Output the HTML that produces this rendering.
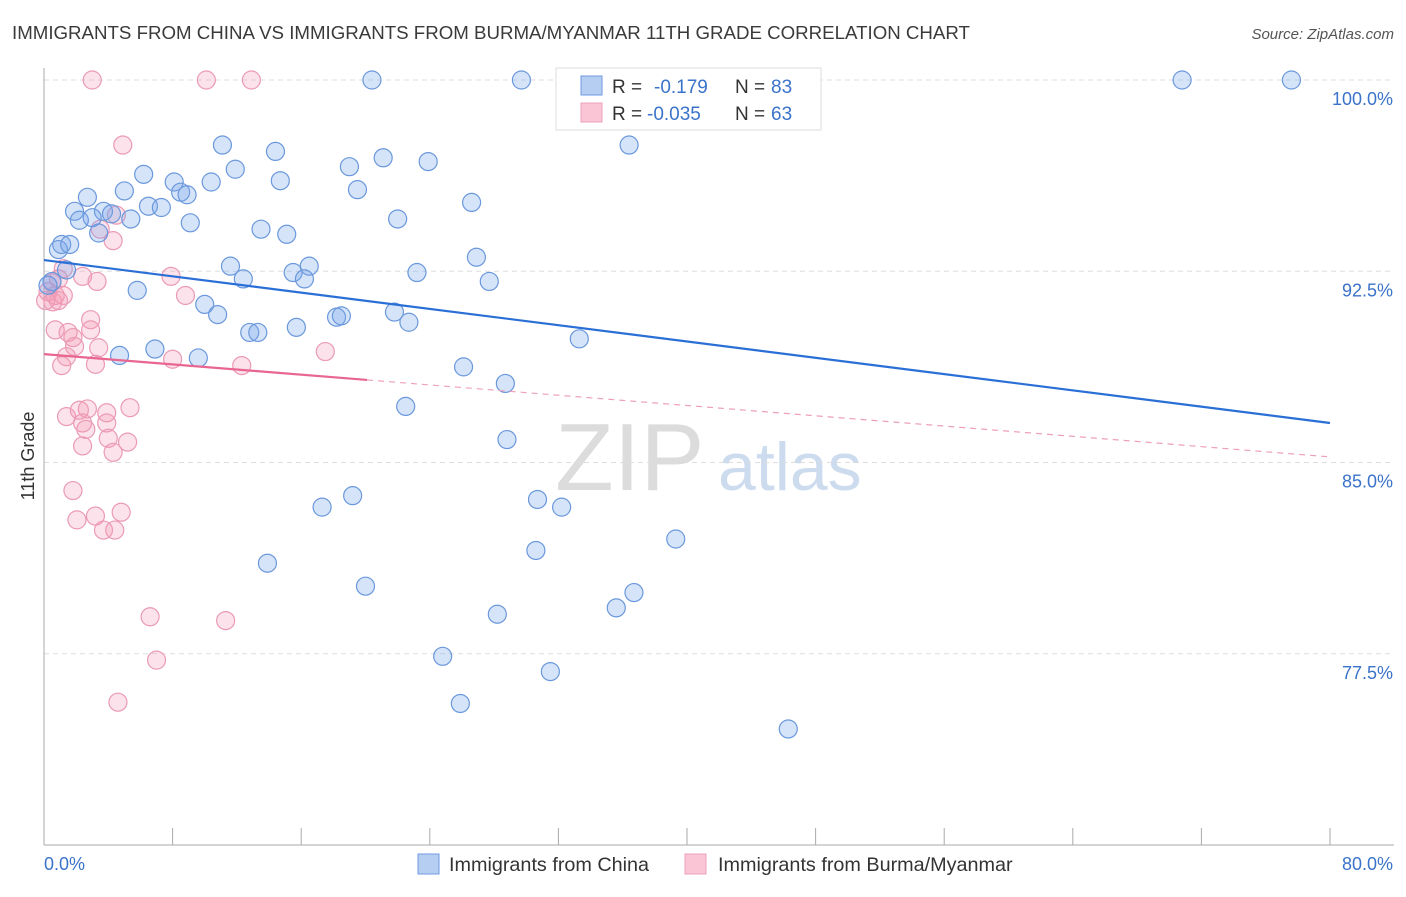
<!DOCTYPE html>
<html><head><meta charset="utf-8"><style>
body{margin:0;background:#fff;font-family:"Liberation Sans",sans-serif;}
svg text{font-family:"Liberation Sans",sans-serif;}
</style></head><body>
<svg id="chart" width="1406" height="892" xmlns="http://www.w3.org/2000/svg">
<text x="12" y="39" font-size="18.7" fill="#3a3a3a">IMMIGRANTS FROM CHINA VS IMMIGRANTS FROM BURMA/MYANMAR 11TH GRADE CORRELATION CHART</text>
<text x="1394" y="39" font-size="15" fill="#555" text-anchor="end" font-style="italic">Source: ZipAtlas.com</text>
<g>
<text x="555" y="490" font-size="96" fill="#d4d4d4" font-family="Liberation Serif" opacity="0.8">ZIP</text>
<text x="718" y="490" font-size="68" fill="#c8d8ee" opacity="0.9">atlas</text>
</g>
<g id="grid"></g>
<g id="axes"></g>
<g id="pts"></g>
<g id="trend"></g>
<text transform="translate(34,456) rotate(-90)" font-size="18" fill="#333" text-anchor="middle">11th Grade</text>
<g>
<rect x="556" y="68" width="265" height="62" fill="#fff" stroke="#ddd"/>
<rect x="581" y="76" width="21" height="19" fill="#b5cef2" stroke="#6f9ae0"/>
<rect x="581" y="103" width="21" height="19" fill="#fac6d6" stroke="#eca0b8"/>
<text x="612" y="93" font-size="19" fill="#333">R = </text><text x="654" y="93" font-size="19" fill="#3a73c9">-0.179</text>
<text x="735" y="93" font-size="19" fill="#333">N = </text><text x="771" y="93" font-size="19" fill="#3a73c9">83</text>
<text x="612" y="120" font-size="19" fill="#333">R = </text><text x="647" y="120" font-size="19" fill="#3a73c9">-0.035</text>
<text x="735" y="120" font-size="19" fill="#333">N = </text><text x="771" y="120" font-size="19" fill="#3a73c9">63</text>
</g>
<g>
<rect x="418" y="854" width="21" height="20" fill="#b5cef2" stroke="#6f9ae0"/>
<text x="449" y="871" font-size="19.8" fill="#333">Immigrants from China</text>
<rect x="685" y="854" width="21" height="20" fill="#fac6d6" stroke="#eca0b8"/>
<text x="718" y="871" font-size="19.8" fill="#333">Immigrants from Burma/Myanmar</text>
</g>
</svg>
<script>
const yTicks=[100,92.5,85,77.5];
const yTickLabels=["100.0%","92.5%","85.0%","77.5%"];
const xTickLabels=["0.0%","80.0%"];
const chinaX=[20.4,29.7,32.9,40.8,70.8,77.6,11.1,36.4,14.4,21.1,23.9,19.0,11.9,6.2,8.1,10.4,14.7,19.5,8.5,5.0,2.7,8.9,6.5,7.3,26.6,1.9,3.7,3.0,5.4,4.2,2.2,9.1,22.0,13.5,15.1,3.4,1.1,0.9,26.9,11.6,15.5,16.5,23.2,0.5,12.4,16.2,27.7,5.8,10.0,10.8,18.2,18.5,21.8,22.7,15.7,12.8,13.3,33.3,4.7,6.9,9.6,26.1,28.7,22.5,28.8,19.2,17.3,30.7,32.2,39.3,30.6,13.9,20.0,36.7,35.6,28.2,24.8,31.5,25.9,46.3,1.4,0.25,1.6];
const chinaY=[100,100,100,100,100,100,97.45,97.45,97.2,96.95,96.8,96.6,96.5,96.3,96.0,96.0,96.05,95.7,95.6,95.65,95.4,95.5,95.05,95.0,95.2,94.85,94.85,94.6,94.55,94.75,94.5,94.4,94.55,94.15,93.95,94.0,93.55,93.35,93.05,92.7,92.45,92.7,92.45,92.1,92.2,92.2,92.1,91.75,91.2,90.8,90.7,90.75,90.9,90.5,90.3,90.1,90.1,89.85,89.2,89.45,89.1,88.75,88.1,87.2,85.9,83.7,83.25,83.55,83.25,82.0,81.55,81.05,80.15,79.9,79.3,79.05,77.4,76.8,75.55,74.55,92.55,91.95,93.55];
const burmaX=[3.0,10.1,12.9,4.9,4.5,3.5,4.3,1.2,2.4,3.3,7.9,0.5,0.25,0.7,1.2,8.8,0.55,0.1,0.9,0.7,1.5,2.9,2.9,1.8,1.9,3.4,1.4,1.1,3.2,12.3,8.0,17.5,5.35,2.7,2.2,3.9,2.4,3.9,1.4,2.6,4.0,5.2,2.4,4.3,1.8,3.2,2.05,3.7,4.4,4.8,6.6,11.3,7.0,4.6,0.9];
const burmaY=[100,100,100,97.45,94.7,94.15,93.7,92.6,92.3,92.1,92.3,92.05,91.7,91.55,91.55,91.55,91.3,91.35,91.35,90.2,90.1,90.6,90.2,89.9,89.55,89.5,89.15,88.8,88.85,88.8,89.05,89.35,87.15,87.1,87.05,86.95,86.55,86.55,86.8,86.3,85.95,85.8,85.65,85.4,83.9,82.9,82.75,82.35,82.35,83.05,78.95,78.8,77.25,75.6,92.2];
const chinaTrend=[92.94,86.55];
const burmaTrend=[89.25,85.22];
const burmaSolidEnd=20.1;

const X0=44,X1=1330;
const xs=v=>X0+(v/80)*(X1-X0);
const ys=v=>80+(100-v)*25.5;
const NS="http://www.w3.org/2000/svg";
function mk(t,a,p){const e=document.createElementNS(NS,t);for(const k in a)e.setAttribute(k,a[k]);p.appendChild(e);return e;}
const grid=document.getElementById('grid'),axes=document.getElementById('axes'),pts=document.getElementById('pts'),tr=document.getElementById('trend');
yTicks.forEach((v,i)=>{
 const l=mk('line',{x1:X0,x2:1394,y1:ys(v),y2:ys(v),stroke:'#ddd','stroke-dasharray':'5,4'},grid);
 
 
 const t=mk('text',{x:1393,y:ys(v)+25,'font-size':18,fill:'#3a73c9','text-anchor':'end'},axes);
 t.textContent=yTickLabels[i];
 
 
});
const ya=mk('line',{x1:X0,x2:X0,y1:68,y2:845,stroke:'#aaa'},axes);


const xa=mk('line',{x1:X0,x2:1394,y1:845,y2:845,stroke:'#aaa'},axes);


for(let i=0;i<=10;i++){
 const tk=mk('line',{x1:xs(i*8),x2:xs(i*8),y1:828,y2:845,stroke:'#aaa'},axes);
 
 
}
const xl0=mk('text',{x:44,y:870,'font-size':18,fill:'#3a73c9'},axes);xl0.textContent=xTickLabels[0];


const xl1=mk('text',{x:1393,y:870,'font-size':18,fill:'#3a73c9','text-anchor':'end'},axes);xl1.textContent=xTickLabels[1];


burmaX.forEach((x,i)=>{
 const c=mk('circle',{cx:xs(x),cy:ys(burmaY[i]),r:9,fill:'rgba(244,150,180,0.28)',stroke:'#eb9ab5','stroke-width':1.2},pts);
 
 
});
chinaX.forEach((x,i)=>{
 const c=mk('circle',{cx:xs(x),cy:ys(chinaY[i]),r:9,fill:'rgba(120,165,235,0.3)',stroke:'#6a98dc','stroke-width':1.2},pts);
 
 
});
const bl=mk('line',{x1:xs(0),y1:ys(chinaTrend[0]),x2:xs(80),y2:ys(chinaTrend[1]),stroke:'#2a6fd6','stroke-width':2.2},tr);


const pm=burmaTrend[0]+(burmaTrend[1]-burmaTrend[0])*burmaSolidEnd/80;
const pl=mk('line',{x1:xs(0),y1:ys(burmaTrend[0]),x2:xs(burmaSolidEnd),y2:ys(pm),stroke:'#e8668f','stroke-width':2.2},tr);


const pd=mk('line',{x1:xs(burmaSolidEnd),y1:ys(pm),x2:xs(80),y2:ys(burmaTrend[1]),stroke:'#eda0b8','stroke-width':1.2,'stroke-dasharray':'6,5'},tr);


</script>
</body></html>
